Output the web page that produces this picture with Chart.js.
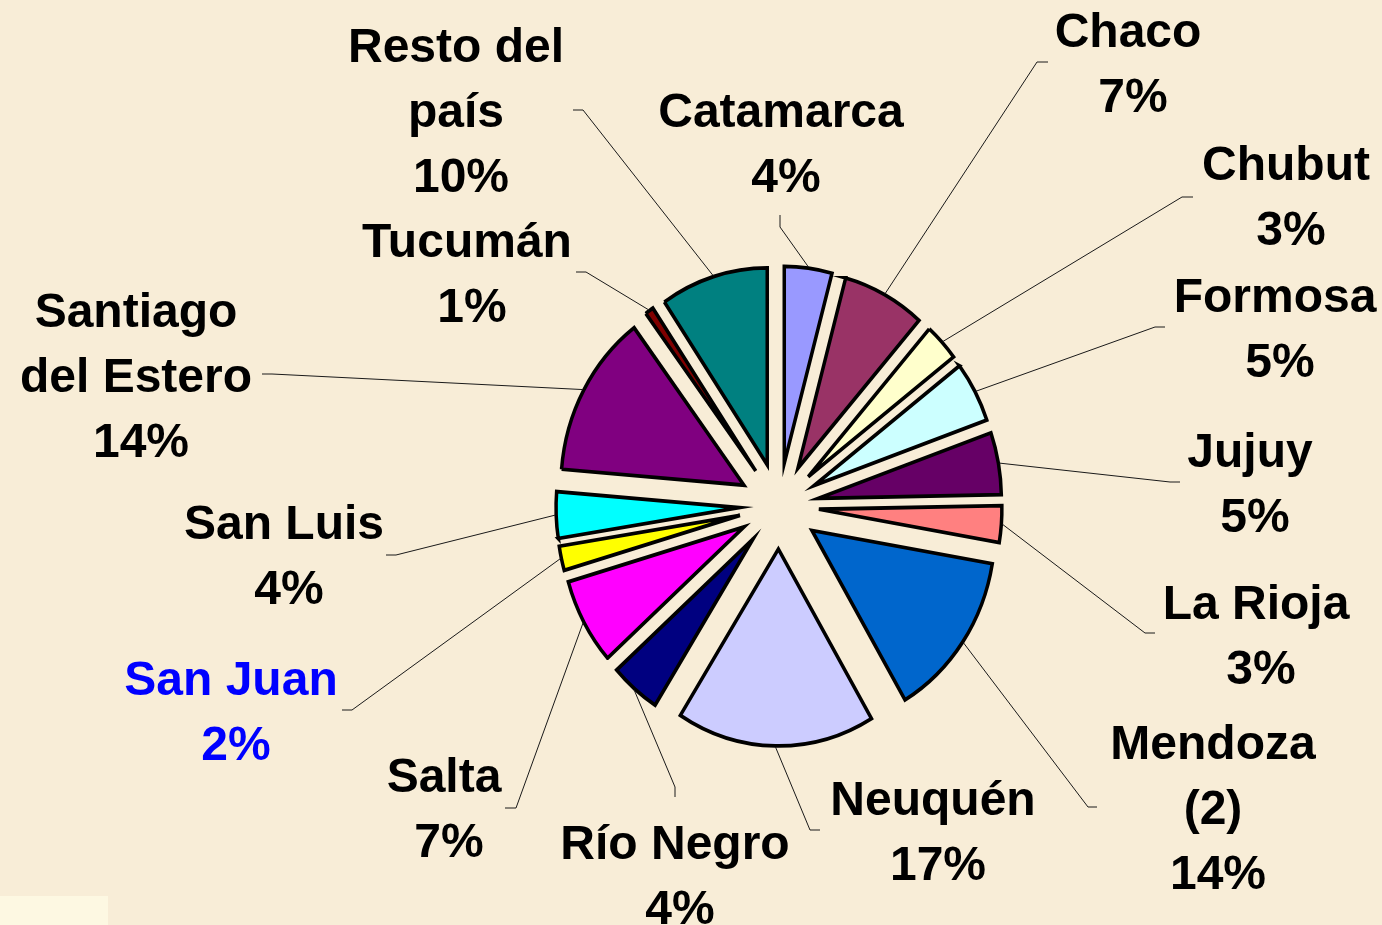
<!DOCTYPE html>
<html lang="es">
<head>
<meta charset="utf-8">
<title>Distribución por provincia</title>
<script src="https://cdn.jsdelivr.net/npm/chart.js@4.4.1/dist/chart.umd.min.js"></script>
<style>
  html, body { margin: 0; padding: 0; background: #f8edd7; }
  #wrap { width: 1382px; height: 925px; position: relative; }
</style>
</head>
<body>
<div id="wrap"><canvas id="torta"></canvas></div>
<script>
// provincias en sentido horario desde las 12
const provincias = ["Catamarca", "Chaco", "Chubut", "Formosa", "Jujuy", "La Rioja", "Mendoza (2)",
  "Neuquén", "Río Negro", "Salta", "San Juan", "San Luis", "Santiago del Estero", "Tucumán", "Resto del país"];
// tamaño de cada porción, estimado de su ángulo
const participacion = [4.2, 7.3, 3.1, 5.0, 5.1, 3.0, 13.8, 17.49, 4.4, 7.1, 2.0, 3.8, 13.45, 0.75, 9.5];
// porcentajes tal como aparecen en los rótulos
const porcentajes = [4, 7, 3, 5, 5, 3, 14, 17, 4, 7, 2, 4, 14, 1, 10];
const colores = ["#9999FF", "#993366", "#FFFFCC", "#CCFFFF", "#660066", "#FF8080", "#0066CC",
  "#CCCCFF", "#000080", "#FF00FF", "#FFFF00", "#00FFFF", "#800080", "#800000", "#008080"];

// cómo se parte cada nombre en renglones
const renglones = [["Catamarca"], ["Chaco"], ["Chubut"], ["Formosa"], ["Jujuy"], ["La Rioja"], ["Mendoza", "(2)"],
  ["Neuquén"], ["Río Negro"], ["Salta"], ["San Juan"], ["San Luis"], ["Santiago", "del Estero"], ["Tucumán"], ["Resto del", "país"]];

// ubicación de los rótulos: centro x, línea base del primer renglón, codo y extremo de la guía
const rotulos = [
  { x: 781, y: 127, codo: [780, 227], fin: [780, 215] },
  { x: 1128, y: 47, codo: [1037, 62], fin: [1048, 62] },
  { x: 1286, y: 180, codo: [1182, 197], fin: [1193, 197] },
  { x: 1275, y: 312, codo: [1155, 327], fin: [1165, 327] },
  { x: 1250, y: 467, codo: [1170, 482], fin: [1180, 482] },
  { x: 1256, y: 619, codo: [1145, 633], fin: [1155, 633] },
  { x: 1213, y: 759, codo: [1088, 807], fin: [1097, 807] },
  { x: 933, y: 815, codo: [810, 830], fin: [820, 830] },
  { x: 675, y: 859, codo: [675, 787], fin: [675, 797] },
  { x: 444, y: 792, codo: [516, 808], fin: [505, 808] },
  { x: 231, y: 695, codo: [352, 710], fin: [342, 710] },
  { x: 284, y: 539, codo: [396, 555], fin: [386, 555] },
  { x: 136, y: 327, codo: [272, 374], fin: [262, 374] },
  { x: 467, y: 257, codo: [586, 272], fin: [576, 272] },
  { x: 456, y: 62, codo: [583, 110], fin: [573, 110] }
];

const EXPLOSION = 40;       // separación de cada porción
const ESTIRAMIENTO = 1.076; // la torta original está algo alargada en vertical
const INTERLINEA = 65;

function centro(chart) {
  const a = chart.chartArea;
  return { cx: (a.left + a.right) / 2, cy: (a.top + a.bottom) / 2 };
}

const fondo = {
  id: "fondo",
  beforeDraw(chart) {
    const { ctx, width, height } = chart;
    ctx.save();
    ctx.fillStyle = "#f8edd7";
    ctx.fillRect(0, 0, width, height);
    ctx.fillStyle = "#fdf8e2";
    ctx.fillRect(0, 896, 108, 29);
    ctx.restore();
  }
};

const explotar = {
  id: "explotar",
  afterDatasetsUpdate(chart) {
    chart.getDatasetMeta(0).data.forEach(arc => {
      const mid = (arc.startAngle + arc.endAngle) / 2;
      arc.x += Math.cos(mid) * EXPLOSION;
      arc.y += Math.sin(mid) * EXPLOSION;
    });
  },
  beforeDatasetsDraw(chart) {
    const { ctx } = chart;
    const { cx, cy } = centro(chart);
    ctx.save();
    ctx.translate(cx, cy);
    ctx.scale(1, ESTIRAMIENTO);
    ctx.translate(-cx, -cy);
  },
  afterDatasetsDraw(chart) {
    chart.ctx.restore();
  }
};

const etiquetas = {
  id: "etiquetas",
  afterDraw(chart) {
    const { ctx } = chart;
    const { cy } = centro(chart);
    ctx.save();
    ctx.lineWidth = 1;
    ctx.strokeStyle = "#1a1a1a";
    chart.getDatasetMeta(0).data.forEach((arc, i) => {
      const r = rotulos[i];
      const mid = (arc.startAngle + arc.endAngle) / 2;
      const px = arc.x + Math.cos(mid) * (arc.outerRadius + 1);
      const py = cy + (arc.y + Math.sin(mid) * (arc.outerRadius + 1) - cy) * ESTIRAMIENTO;
      ctx.beginPath();
      ctx.moveTo(px, py);
      ctx.lineTo(r.codo[0], r.codo[1]);
      ctx.lineTo(r.fin[0], r.fin[1]);
      ctx.stroke();
    });

    ctx.font = 'bold 48px "Liberation Sans", Arial, sans-serif';
    ctx.textAlign = "center";
    ctx.textBaseline = "alphabetic";
    provincias.forEach((p, i) => {
      const r = rotulos[i];
      ctx.fillStyle = p === "San Juan" ? "#0000FF" : "#000000";
      const lineas = renglones[i].concat([porcentajes[i] + "%"]);
      lineas.forEach((t, k) => {
        const dx = k === lineas.length - 1 ? 5 : 0;
        ctx.fillText(t, r.x + dx, r.y + k * INTERLINEA);
      });
    });
    ctx.restore();
  }
};

new Chart(document.getElementById("torta"), {
  type: "pie",
  data: {
    labels: provincias,
    datasets: [{
      data: participacion,
      backgroundColor: colores,
      borderColor: "#000000",
      borderWidth: 3.5,
      borderJoinStyle: "miter"
    }]
  },
  options: {
    responsive: true,
    maintainAspectRatio: false,
    animation: false,
    events: [],
    radius: 183,
    layout: { padding: { left: 276, right: 100, top: 187, bottom: 100 } },
    plugins: {
      legend: { display: false },
      tooltip: { enabled: false }
    }
  },
  plugins: [fondo, explotar, etiquetas]
});
</script>
</body>
</html>
